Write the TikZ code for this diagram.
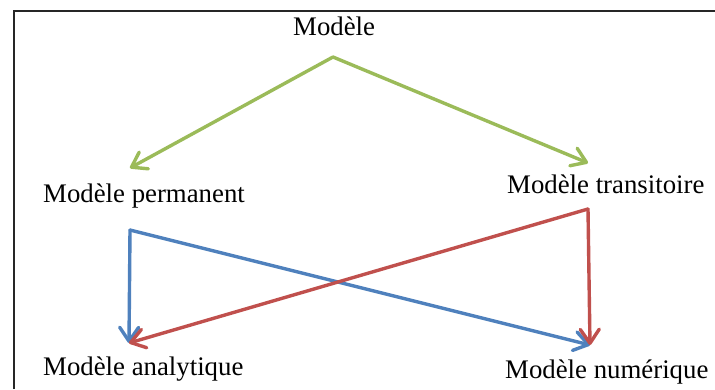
\documentclass[tikz,border=0pt]{standalone}
\usepackage{fontspec}
\setmainfont{Liberation Serif}
\usetikzlibrary{arrows.meta}
\definecolor{ogreen}{HTML}{9BBB59}
\definecolor{oblue}{HTML}{4F81BD}
\definecolor{ored}{HTML}{C0504D}
\begin{document}
\begin{tikzpicture}[x=1pt,y=-1pt,
  lbl/.style={anchor=base west,inner sep=0pt,font=\fontsize{26.8}{30}\selectfont},
  conn/.style={line width=3.4pt,line cap=round,line join=round,
    -{Straight Barb[length=14pt,width=19pt,line cap=round,line join=round]}},
  frameline/.style={line width=2.4pt,draw=black!85}]
\useasboundingbox (0,0) rectangle (715,389);
\draw[frameline] (14,389) -- (14,11) -- (715,11);
\node[lbl] (modele) at (293,35) {Modèle};
\node[lbl] (perm) at (43,202) {Modèle permanent};
\node[lbl] (trans) at (507,193) {Modèle transitoire};
\node[lbl] (ana) at (43,375) {Modèle analytique};
\node[lbl] (num) at (505,378) {Modèle numérique};
\coordinate (mo) at (333,57);
\coordinate (pin) at (130,168);
\coordinate (tin) at (588,163);
\coordinate (pout) at (130,230);
\coordinate (tout) at (588,209);
\coordinate (ain) at (129,343);
\coordinate (nin) at (590,345);
\draw[conn,ogreen] (mo) -- (pin);
\draw[conn,ogreen] (mo) -- (tin);
\draw[conn,oblue] (pout) -- (ain);
\draw[conn,oblue] (pout) -- (nin);
\draw[conn,ored] (tout) -- (nin);
\draw[conn,ored] (tout) -- (ain);
\end{tikzpicture}
\end{document}
